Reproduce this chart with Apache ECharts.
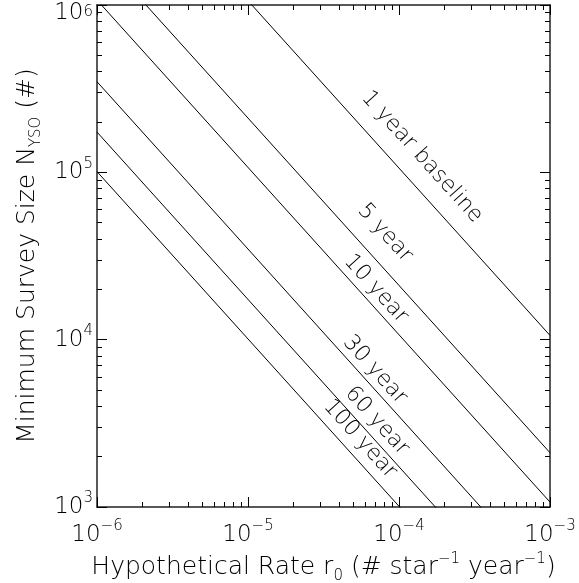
<!DOCTYPE html>
<html>
<head>
<meta charset="utf-8">
<script src="https://cdn.jsdelivr.net/npm/echarts@6/dist/echarts.min.js"></script>
<style>
  html, body { margin: 0; padding: 0; background: #fff; }
  #chart { width: 579px; height: 583px; }
</style>
</head>
<body>
<div id="chart"></div>
<script>
// rate r0 at the two ends of the x range (# star^-1 year^-1)
const rates = [1e-6, 1e-3]
// minimum survey size read at those two rates, one array per baseline
const oneYear = [1.06e7, 1.06e4]
const fiveYear = [2.11e6, 2.11e3]
const tenYear = [1.07e6, 1.07e3]
const thirtyYear = [3.48e5, 348]
const sixtyYear = [1.74e5, 174]
const hundredYear = [1.01e5, 101]
const baselineNames = ['1 year baseline', '5 year', '10 year', '30 year', '60 year', '100 year']
const baselineValues = [oneYear, fiveYear, tenYear, thirtyYear, sixtyYear, hundredYear]
// decade ticks
const xDecades = [1e-6, 1e-5, 1e-4, 1e-3]
const yDecades = [1e3, 1e4, 1e5, 1e6]

// label centres (px) along each line
const labelPos = [[422, 157], [385, 233], [376, 289], [375, 370], [377, 421], [360, 439]]

const FONT = '"DejaVu Sans", "Open Sans", sans-serif'
const WEIGHT = 200   // ExtraLight, close to the thin plotter font
const INK = '#000'

function minorTicks(lo, hi) {
  const out = []
  for (let k = lo; k < hi; k++) {
    for (let m = 2; m <= 9; m++) out.push(k + Math.log10(m))
  }
  return out
}

function txt(size, lh, extra) {
  return Object.assign({ fontSize: size, lineHeight: lh, fontFamily: FONT, fontWeight: WEIGHT, color: INK }, extra || {})
}

const rich = {
  b: txt(23, 32, { verticalAlign: 'middle' }),
  s: txt(15, 16, { verticalAlign: 'top' }),
  bt: txt(23, 32, { padding: [16, 0, 0, 0] }),
  st: txt(15, 16, { padding: [16, 0, 0, 0], verticalAlign: 'top' })
}
const nameRich = {
  n: txt(25, 32, { verticalAlign: 'middle' }),
  sup: txt(15, 16, { verticalAlign: 'top' }),
  sub: txt(15, 16, { verticalAlign: 'bottom' })
}

function decadeLabel(v) {
  const e = Math.round(Math.log10(v))
  return '{b|10}{s|' + (e < 0 ? '\u2212' : '') + Math.abs(e) + '}'
}

const axisLine = { show: true, onZero: false, lineStyle: { color: '#222', width: 1.5 } }

function majorAxis(pos, range, withLabels, extra) {
  return Object.assign({
    type: 'log',
    logBase: 10,
    position: pos,
    offset: 0,
    min: range[0],
    max: range[range.length - 1],
    axisLine: axisLine,
    axisTick: { show: true, inside: true, length: 10, lineStyle: { color: INK, width: 1 } },
    axisLabel: withLabels ? { show: true, formatter: decadeLabel, rich: rich } : { show: false },
    splitLine: { show: false },
    minorTick: { show: false }
  }, extra || {})
}

// minor ticks at 2..9 x 10^k, drawn on a hidden linear axis in log10 units
function minorAxis(pos, lo, hi) {
  return {
    type: 'value',
    position: pos,
    offset: 0,
    min: lo,
    max: hi,
    axisLine: { show: false },
    axisTick: { show: true, inside: true, length: 5, customValues: minorTicks(lo, hi), lineStyle: { color: INK, width: 1 } },
    axisLabel: { show: false },
    splitLine: { show: false }
  }
}

const chart = echarts.init(document.getElementById('chart'), null, { renderer: 'canvas' })

chart.setOption({
  animation: false,
  backgroundColor: '#fff',
  grid: { left: 97, right: 29, top: 5, bottom: 76, containLabel: false, outerBoundsMode: 'none' },
  xAxis: [
    majorAxis('bottom', xDecades, true, {
      axisLabel: { show: true, margin: 12, formatter: decadeLabel, rich: rich },
      name: '{n|Hypothetical Rate r}{sub|0}{n| (# star}{sup|\u22121}{n| year}{sup|\u22121}{n|)}',
      nameLocation: 'middle',
      nameGap: 44,
      nameTextStyle: { rich: nameRich }
    }),
    majorAxis('top', xDecades, false),
    minorAxis('bottom', -6, -3),
    minorAxis('top', -6, -3)
  ],
  yAxis: [
    majorAxis('left', yDecades, true, {
      axisLabel: {
        show: true,
        margin: 4,
        rich: rich,
        formatter: function (v) {
          const e = Math.round(Math.log10(v))
          if (e === 6) return '{bt|10}{st|6}'
          return decadeLabel(v)
        }
      },
      name: '{n|Minimum Survey Size N}{sub|YSO}{n| (#)}',
      nameLocation: 'middle',
      nameGap: 49,
      nameTextStyle: { rich: nameRich }
    }),
    majorAxis('right', yDecades, false),
    minorAxis('left', 3, 6),
    minorAxis('right', 3, 6)
  ],
  series: baselineValues.map(function (vals, i) {
    return {
      name: baselineNames[i],
      type: 'line',
      xAxisIndex: 0,
      yAxisIndex: 0,
      showSymbol: false,
      clip: true,
      silent: true,
      lineStyle: { color: INK, width: 1 },
      data: rates.map(function (r, j) { return [r, vals[j]] })
    }
  })
})

// slope angle of a 1/r line in pixel space
const a = chart.convertToPixel({ xAxisIndex: 0, yAxisIndex: 0 }, [1e-6, 1e6])
const b = chart.convertToPixel({ xAxisIndex: 0, yAxisIndex: 0 }, [1e-5, 1e5])
const angle = Math.atan2(b[1] - a[1], b[0] - a[0])

chart.setOption({
  graphic: baselineNames.map(function (t, i) {
    return {
      type: 'text',
      x: labelPos[i][0],
      y: labelPos[i][1],
      rotation: -angle,
      silent: true,
      style: {
        text: t,
        fill: INK,
        font: WEIGHT + ' 22px ' + FONT,
        align: 'center',
        verticalAlign: 'middle'
      }
    }
  })
})
</script>
</body>
</html>
